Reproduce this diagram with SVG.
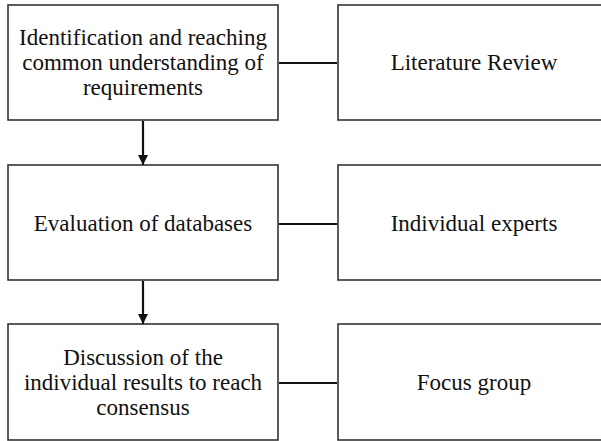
<svg xmlns="http://www.w3.org/2000/svg" width="601" height="441" viewBox="0 0 601 441">
<style>
.box{fill:#fff;stroke:#333;stroke-width:1.6}
.t{font-family:"Liberation Serif","Times New Roman",serif;font-size:23px;fill:#111;text-anchor:middle}
.c{stroke:#111;stroke-width:2.2;fill:none}
</style>
<defs>
<marker id="ah" markerWidth="10" markerHeight="10" refX="10" refY="5" orient="auto" markerUnits="userSpaceOnUse">
<path d="M0,0 L10,5 L0,10 Z" fill="#111"/>
</marker>
</defs>
<rect width="601" height="441" fill="#fff"/>
<g id="n1"><rect class="box" x="8" y="5" width="270" height="115"/>
<text class="t" x="143" y="45">Identification and reaching</text>
<text class="t" x="143" y="70">common understanding of</text>
<text class="t" x="143" y="95">requirements</text></g>
<g id="n2"><rect class="box" x="338" y="5" width="275" height="115"/>
<text class="t" x="474" y="70">Literature Review</text></g>
<g id="n3"><rect class="box" x="8" y="165" width="270" height="115"/>
<text class="t" x="143" y="231">Evaluation of databases</text></g>
<g id="n4"><rect class="box" x="338" y="165" width="275" height="115"/>
<text class="t" x="474" y="231">Individual experts</text></g>
<g id="n5"><rect class="box" x="8" y="324" width="270" height="116"/>
<text class="t" x="143" y="365">Discussion of the</text>
<text class="t" x="143" y="390">individual results to reach</text>
<text class="t" x="143" y="415">consensus</text></g>
<g id="n6"><rect class="box" x="338" y="324" width="275" height="116"/>
<text class="t" x="474" y="390">Focus group</text></g>
<g id="connectors">
<line class="c" x1="279" y1="63" x2="337" y2="63"/>
<line class="c" x1="279" y1="224" x2="337" y2="224"/>
<line class="c" x1="279" y1="383" x2="337" y2="383"/>
<line class="c" x1="143" y1="121" x2="143" y2="165" marker-end="url(#ah)"/>
<line class="c" x1="143" y1="281" x2="143" y2="324" marker-end="url(#ah)"/>
</g>
</svg>
